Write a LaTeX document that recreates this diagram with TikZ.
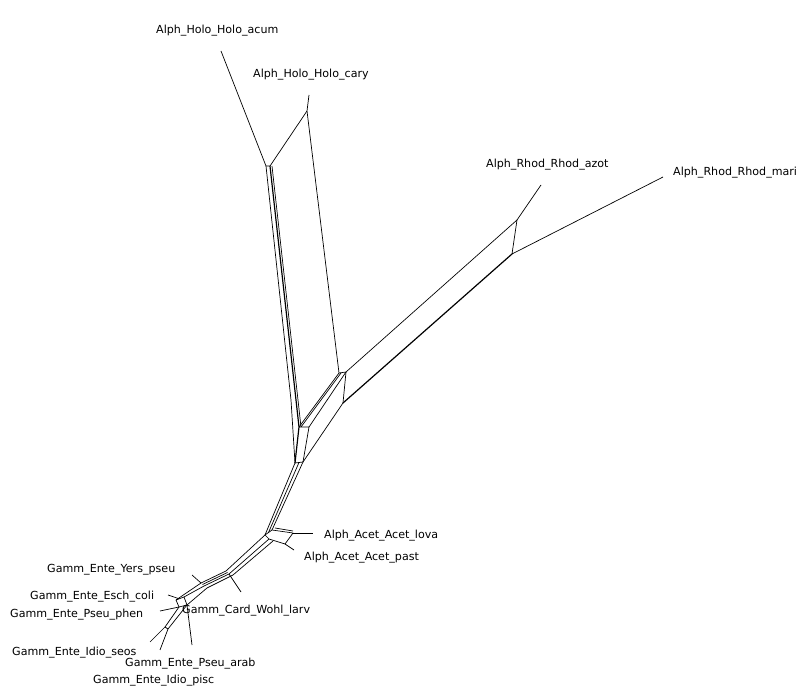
\documentclass[tikz,border=0pt]{standalone}
\usepackage{fontspec}
\setmainfont{DejaVu Sans}
\usetikzlibrary{calc}

\tikzset{
  taxon/.style={anchor=west,inner sep=0pt,font=\fontsize{11.1}{12}\selectfont},
  split/.style={line width=0.7pt},
  heavy/.style={line width=1.2pt}
}

\begin{document}
\begin{tikzpicture}[x=1pt,y=-1pt,line join=round]
        \useasboundingbox (0,0) rectangle (812,700);

        \node[taxon] (acum) at (156,31) {Alph\_Holo\_Holo\_acum};
        \node[taxon] (cary) at (253,75) {Alph\_Holo\_Holo\_cary};
        \node[taxon] (azot) at (486,165) {Alph\_Rhod\_Rhod\_azot};
        \node[taxon] (mari) at (673,173) {Alph\_Rhod\_Rhod\_mari};
        \node[taxon] (lova) at (324,536) {Alph\_Acet\_Acet\_lova};
        \node[taxon] (past) at (304,558) {Alph\_Acet\_Acet\_past};
        \node[taxon] (yers) at (47,570) {Gamm\_Ente\_Yers\_pseu};
        \node[taxon] (esch) at (30,597) {Gamm\_Ente\_Esch\_coli};
        \node[taxon] (phen) at (10,615) {Gamm\_Ente\_Pseu\_phen};
        \node[taxon] (larv) at (182,611) {Gamm\_Card\_Wohl\_larv};
        \node[taxon] (seos) at (12,653) {Gamm\_Ente\_Idio\_seos};
        \node[taxon] (arab) at (125,664) {Gamm\_Ente\_Pseu\_arab};
        \node[taxon] (pisc) at (93,681) {Gamm\_Ente\_Idio\_pisc};

        % Holo
        \coordinate (acumend) at (221,51);
        \coordinate (caryend) at (309,95);
        \coordinate (hc) at (307,111);
        \coordinate (h1) at (266,166);
        \coordinate (h2) at (270,166);
        \coordinate (hk) at (291,400);
        % Rhod
        \coordinate (r1) at (339,373);
        \coordinate (r2) at (346,372);
        \coordinate (r3) at (343,403);
        \coordinate (az) at (517,220);
        \coordinate (azotend) at (541,185);
        \coordinate (rm) at (512,254);
        \coordinate (mariend) at (663,177);
        % centre
        \coordinate (b1) at (299,427);
        \coordinate (b2) at (309,427);
        \coordinate (b3) at (295,463);
        \coordinate (b4) at (303,462);
        % Acet
        \coordinate (a1) at (265,535);
        \coordinate (a2) at (272,530);
        \coordinate (a3) at (293,533);
        \coordinate (a4) at (285,544);
        \coordinate (a5) at (269,539);
        \coordinate (lovaend) at (313,533);
        \coordinate (pastend) at (294,550);
        % Gamm
        \coordinate (w1) at (226,571);
        \coordinate (w2) at (229,574);
        \coordinate (w3) at (233,575);
        \coordinate (y1) at (201,583);
        \coordinate (y2) at (204,586);
        \coordinate (y3) at (207,588);
        \coordinate (larvend) at (241,592);
        \coordinate (yersend) at (192,575);
        \coordinate (e1) at (176,600);
        \coordinate (e2) at (184,597);
        \coordinate (e3) at (187,605);
        \coordinate (e4) at (179,607);
        \coordinate (eschend) at (168,595);
        \coordinate (phenend) at (160,611);
        \coordinate (seosend) at (150,642);
        \coordinate (piscend) at (160,650);
        \coordinate (arabend) at (192,645);
        \coordinate (s1) at (165,627);
        \coordinate (s2) at (168,629);

        \draw[split] (acumend) -- (h1) -- (h2) -- (hc) -- (caryend);
        \draw[split] (hc) -- (r1);
        \draw[split] (h1) -- (hk) -- (b3);
        \draw[heavy] (h2) -- (b1) -- (b3);
        \draw[split] ($(h2)+(2,0)$) -- ($(b1)+(2,0)$);

        \draw[split] (r1) -- (r2) -- (az) -- (azotend);
        \draw[split] (az) -- (rm) -- (mariend);
        \draw[heavy] (rm) -- (r3);
        \draw[split] (r3) -- (r2);
        \draw[split] (r1) -- (b1);
        \draw[split] ($(r1)+(2,0)$) -- ($(b1)+(2,0)$);
        \draw[split] (r2) -- (b2);
        \draw[split] (r3) -- (b4);
        \draw[split] (b1) -- (b2) -- (b4) -- (b3);

        \draw[split] (b3) -- (a1);
        \draw[split] ($(b3)!0.5!(b4)$) -- ($(a1)!0.5!(a2)$);
        \draw[split] (b4) -- (a2);
        \draw[split] (a1) -- (a2) -- (a3) -- (a4) -- (a5) -- (a1);
        \draw[split] ($(a2)+(3,-2)$) -- ($(a3)+(0,-2)$);
        \draw[split] (a3) -- (lovaend);
        \draw[split] (a4) -- (pastend);

        \draw[split] (a1) -- (w1) -- (y1) -- (e1);
        \draw[split] (a5) -- (w2) -- (y2) -- (e2);
        \draw[split] ($(a5)+(4,2)$) -- (w3) -- (y3) -- (e3);
        \draw[split] ($(w1)+(1.5,1.5)$) -- ($(y1)+(1.5,1.5)$);
        \draw[split] (w2) -- (larvend);
        \draw[split] (yersend) -- (y1);

        \draw[split] (e1) -- (e2) -- (e3) -- (e4) -- (e1);
        \draw[split] (eschend) -- ($(e1)!0.4!(e2)$);
        \draw[split] (phenend) -- (e4);
        \draw[split] (seosend) -- (s1) -- (e4);
        \draw[split] (piscend) -- (s2) -- (e3);
        \draw[split] (s1) -- (s2);
        \draw[split] (arabend) -- (e3);
    \end{tikzpicture}
\end{document}
